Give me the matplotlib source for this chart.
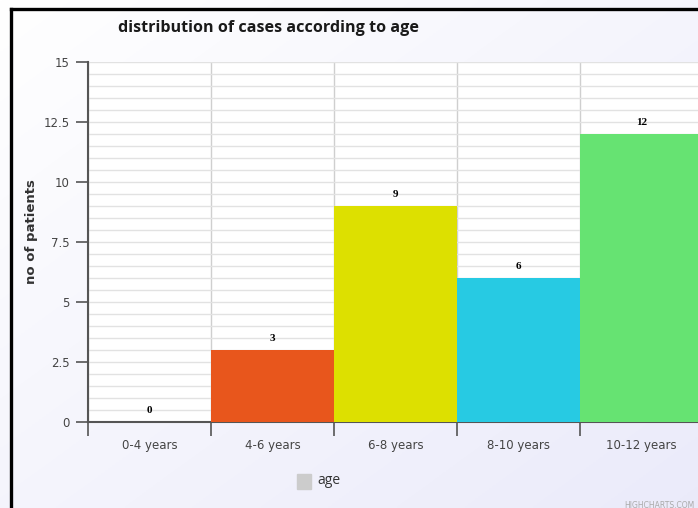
import numpy as np
import matplotlib.pyplot as plt
from matplotlib.patches import Rectangle
from matplotlib.ticker import MultipleLocator, FixedLocator

categories = ["0-4 years", "4-6 years", "6-8 years", "8-10 years", "10-12 years"]
patients = [0, 3, 9, 6, 12]
bar_colors = ["#7cb5ec", "#e8561c", "#dde000", "#27cae3", "#66e372"]
y_ticks = [0, 2.5, 5, 7.5, 10, 12.5, 15]
y_tick_labels = ["0", "2.5", "5", "7.5", "10", "12.5", "15"]

title_family = "Open Sans"

W, H = 698, 508
fig = plt.figure(figsize=(W / 100, H / 100), dpi=100)

# soft diagonal background gradient
bg = fig.add_axes([0, 0, 1, 1], zorder=-10)
gx, gy = np.meshgrid(np.linspace(0, 1, 200), np.linspace(0, 1, 200))
t = np.clip((gx + gy) / 2, 0, 1)
c0 = np.array([1.0, 1.0, 1.0])
c1 = np.array([0.92, 0.92, 0.98])
img = c0[None, None, :] * (1 - t[..., None]) + c1[None, None, :] * t[..., None]
bg.imshow(img, extent=[0, 1, 0, 1], aspect="auto", origin="upper")
bg.set_xlim(0, 1)
bg.set_ylim(0, 1)
bg.axis("off")

# frame line on the left and top
fig.add_artist(plt.Line2D([11 / W, 11 / W], [0, 1 - 9 / H], color="black", lw=2.4))
fig.add_artist(plt.Line2D([11 / W, 1], [1 - 9 / H, 1 - 9 / H], color="black", lw=2.4))

left, right, top, bottom = 88, 703, 62, 422
ax = fig.add_axes([left / W, 1 - bottom / H, (right - left) / W, (bottom - top) / H])
ax.set_facecolor("white")

x = np.arange(len(categories))
ax.bar(x, patients, width=1.0, color=bar_colors, zorder=3, linewidth=0)
for xi, v in zip(x, patients):
    ax.annotate(str(v), (xi, v), xytext=(0, 8), textcoords="offset points",
                ha="center", va="center", fontsize=8, fontweight="bold",
                family="Liberation Serif", color="black", zorder=4)

ax.set_xlim(-0.5, len(categories) - 0.5)
ax.set_ylim(0, 15)

ax.yaxis.set_major_locator(FixedLocator(y_ticks))
ax.set_yticklabels(y_tick_labels)
ax.yaxis.set_minor_locator(MultipleLocator(0.5))
ax.grid(axis="y", which="both", color="#e2e2e2", lw=1, zorder=0)

ax.set_xticks(x)
ax.set_xticklabels(categories)
ax.xaxis.set_minor_locator(FixedLocator(np.arange(-0.5, len(categories), 1.0)))
ax.grid(axis="x", which="minor", color="#cfcfcf", lw=1, zorder=0)
ax.tick_params(axis="x", which="major", length=0, pad=12, labelsize=8.5, labelcolor="#444444")
ax.tick_params(axis="x", which="minor", length=10, width=1.2, color="#555555", direction="out")
ax.tick_params(axis="y", which="major", length=9, width=1.2, color="#555555", pad=4,
               labelsize=8.5, labelcolor="#444444")
ax.tick_params(axis="y", which="minor", length=0)

for s in ["top", "right"]:
    ax.spines[s].set_visible(False)
ax.spines["left"].set_color("#555555")
ax.spines["left"].set_linewidth(1.5)
ax.spines["bottom"].set_color("#555555")
ax.spines["bottom"].set_linewidth(1.5)

fig.text(32 / W, 1 - 232 / H, "no of patients", rotation=90, ha="center", va="center",
         fontsize=9.5, fontweight="bold", color="#333333")

fig.text(268 / W, 1 - 28 / H, "distribution of cases according to age",
         ha="center", va="center", fontsize=11.6, fontweight="bold", color="#1a1a1a",
         family=title_family)

# legend
fig.add_artist(Rectangle((297 / W, 1 - 489 / H), 14 / W, 15 / H,
                         transform=fig.transFigure, color="#cccccc"))
fig.text(317 / W, 1 - 481 / H, "age", ha="left", va="center", fontsize=10,
         color="#333333", family=title_family)

# credits
fig.text(624 / W, 1 - 505 / H, "HIGHCHARTS.COM", ha="left", va="center",
         fontsize=5.5, color="#aaaaaa")

fig.savefig("out.png", dpi=100)
